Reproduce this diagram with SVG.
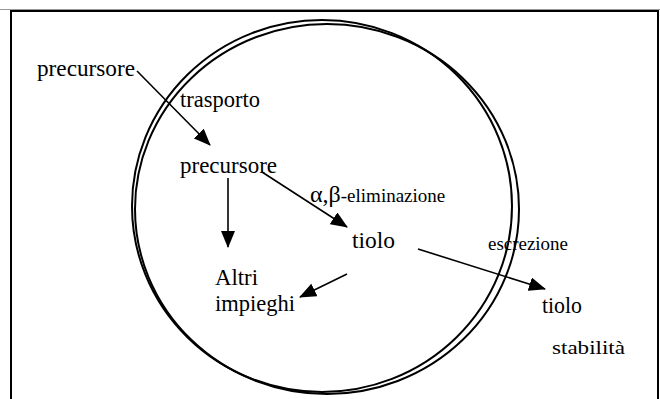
<svg xmlns="http://www.w3.org/2000/svg" width="660" height="399" viewBox="0 0 660 399">
<defs>
<marker id="ah" markerUnits="userSpaceOnUse" markerWidth="17" markerHeight="14" viewBox="0 0 17 14" refX="16" refY="7" orient="auto">
<path d="M0,0 L17,7 L0,14 Z" fill="#000"/>
</marker>
</defs>
<style>
.big{font-size:24px}
.small{font-size:19px}
.ln{stroke:#000;stroke-width:1.6;fill:none}
.cell{stroke:#000;stroke-width:2;fill:none}
</style>
<rect width="660" height="399" fill="#fff"/>
<line x1="0" y1="9.5" x2="660" y2="9.5" stroke="#999" stroke-width="1"/>
<rect x="11" y="11" width="647" height="400" fill="none" stroke="#000" stroke-width="2"/>
<g id="cell">
<ellipse class="cell" cx="322" cy="206" rx="190" ry="186"/>
<ellipse class="cell" cx="327" cy="209" rx="192" ry="185"/>
</g>
<g id="connectors">
<line class="ln" x1="137" y1="71" x2="210" y2="145" marker-end="url(#ah)"/>
<line class="ln" x1="262" y1="172" x2="347" y2="227" marker-end="url(#ah)"/>
<line class="ln" x1="228" y1="178" x2="228" y2="247" marker-end="url(#ah)"/>
<line class="ln" x1="347" y1="274" x2="300" y2="297" marker-end="url(#ah)"/>
<line class="ln" x1="418" y1="249" x2="545" y2="289" marker-end="url(#ah)"/>
</g>
<g font-family="'Liberation Serif', 'DejaVu Serif', serif" fill="#000">
<g id="precursore-out"><text class="big" x="37" y="76" textLength="98" lengthAdjust="spacingAndGlyphs">precursore</text></g>
<g id="trasporto"><text class="big" x="180" y="107" textLength="80" lengthAdjust="spacingAndGlyphs">trasporto</text></g>
<g id="precursore-in"><text class="big" x="180" y="173" textLength="97" lengthAdjust="spacingAndGlyphs">precursore</text></g>
<g id="eliminazione"><text x="310" y="202"><tspan class="big">α,β</tspan><tspan class="small">-eliminazione</tspan></text></g>
<g id="tiolo-in"><text class="big" x="352" y="248" textLength="43" lengthAdjust="spacingAndGlyphs">tiolo</text></g>
<g id="escrezione"><text class="small" x="488" y="250" textLength="80" lengthAdjust="spacingAndGlyphs">escrezione</text></g>
<g id="altri"><text class="big" x="215" y="285" textLength="43" lengthAdjust="spacingAndGlyphs">Altri</text><text class="big" x="215" y="311" textLength="80" lengthAdjust="spacingAndGlyphs">impieghi</text></g>
<g id="tiolo-out"><text class="big" x="542" y="313" textLength="40" lengthAdjust="spacingAndGlyphs">tiolo</text></g>
<g id="stabilita"><text class="small" x="552" y="354" textLength="73" lengthAdjust="spacingAndGlyphs">stabilità</text></g>
</g>
</svg>
